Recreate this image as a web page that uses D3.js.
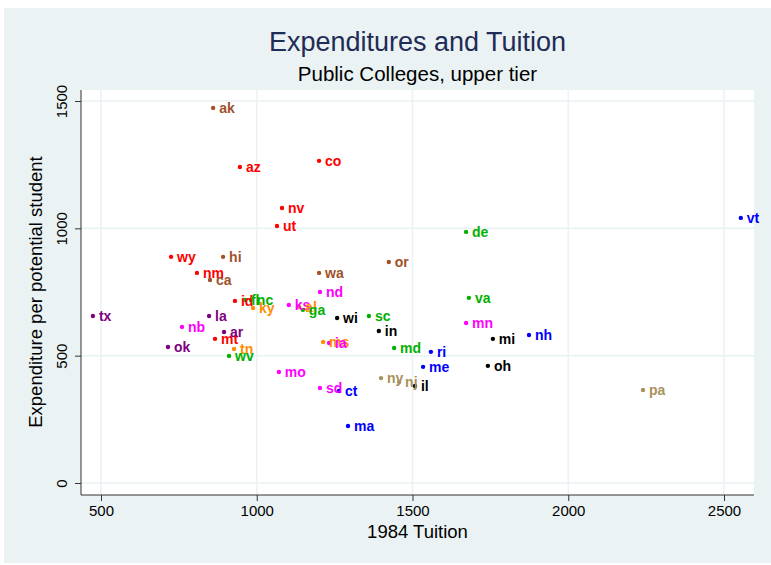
<!DOCTYPE html>
<html>
<head>
<meta charset="utf-8">
<script src="https://cdn.jsdelivr.net/npm/d3@7"></script>
<style>
  body { margin: 0; background: #fff; }
  svg { display: block; font-family: "Liberation Sans", Arial, sans-serif; }
</style>
</head>
<body>
<script>
// State codes, 1984 tuition and expenditure per potential student
const states = ["ak","az","co","nv","ut","wy","hi","nm","ca","wa","or","de","vt","va","mn","mi","nh","oh","pa","ri","me","md","in","sc","wi","ny","nj","il","ct","sd","ma","mo","ms","ia","ks","al","ga","nd","id","fl","nc","ky","tn","wv","mt","ar","la","nb","ok","tx"];
const tuition = [860,946,1200,1081,1065,725,892,808,850,1200,1424,1672,2554,1681,1672,1758,1874,1742,2240,1559,1534,1441,1392,1360,1258,1399,1457,1508,1264,1203,1293,1071,1213,1232,1103,1136,1148,1203,930,962,981,988,927,911,866,895,847,760,715,474];
const expenditure = [1473,1241,1265,1080,1009,888,888,825,797,825,868,986,1041,727,628,566,581,460,365,515,456,530,597,656,648,412,397,381,361,373,224,436,554,550,699,691,680,750,715,719,719,687,526,499,566,593,656,613,534,656];
const group = ["brown","red","red","red","red","red","brown","red","brown","brown","brown","green","blue","green","magenta","black","blue","black","tan","blue","blue","green","black","green","black","tan","tan","black","blue","magenta","blue","magenta","orange","magenta","magenta","orange","green","magenta","red","green","green","orange","orange","green","red","purple","purple","magenta","purple","purple"];
const xTicks = [500, 1000, 1500, 2000, 2500];
const yTicks = [0, 500, 1000, 1500];

const colors = {
  red: "#FF0000",
  brown: "#A0522D",
  green: "#00B000",
  purple: "#800080",
  magenta: "#FF00FF",
  orange: "#FF8C00",
  black: "#000000",
  blue: "#0000FF",
  tan: "#A8915C"
};

const W = 771, H = 565;
const plot = { left: 81, right: 754, top: 90, bottom: 495 };

const svg = d3.select("body").append("svg")
  .attr("width", W)
  .attr("height", H);

// outer graph region
svg.append("rect")
  .attr("x", 4).attr("y", 8)
  .attr("width", W - 4).attr("height", H - 10)
  .style("fill", "#EAF2F3");

// plot region
svg.append("rect")
  .attr("x", plot.left).attr("y", plot.top)
  .attr("width", plot.right - plot.left).attr("height", plot.bottom - plot.top)
  .style("fill", "#FFFFFF");

const x = d3.scaleLinear().domain([500, 2500]).range([101, 724]);
const y = d3.scaleLinear().domain([0, 1500]).range([483, 101]);

// gridlines
svg.append("g")
  .selectAll("line")
  .data(xTicks)
  .join("line")
  .attr("x1", d => x(d)).attr("x2", d => x(d))
  .attr("y1", plot.top).attr("y2", plot.bottom)
  .style("stroke", "#EAF2F3").style("stroke-width", 1.5);

svg.append("g")
  .selectAll("line")
  .data(yTicks)
  .join("line")
  .attr("x1", plot.left).attr("x2", plot.right)
  .attr("y1", d => y(d)).attr("y2", d => y(d))
  .style("stroke", "#EAF2F3").style("stroke-width", 1.5);

// x axis
const xAxis = svg.append("g")
  .attr("transform", `translate(0,${plot.bottom})`)
  .call(d3.axisBottom(x).tickValues(xTicks).tickFormat(d3.format("d"))
    .tickSize(6).tickSizeOuter(0).tickPadding(4));
xAxis.select(".domain").attr("d", `M${plot.left},0H${plot.right}`).style("stroke", "#333");
xAxis.selectAll(".tick line").style("stroke", "#333");
xAxis.selectAll(".tick text")
  .style("font-size", "15px").style("fill", "#000")
  .style("font-family", "Liberation Sans, Arial, sans-serif");

// y axis
const yAxis = svg.append("g")
  .attr("transform", `translate(${plot.left},0)`)
  .call(d3.axisLeft(y).tickValues(yTicks).tickFormat(d3.format("d"))
    .tickSize(6).tickSizeOuter(0).tickPadding(4));
yAxis.select(".domain").attr("d", `M0,${plot.top}V${plot.bottom}`).style("stroke", "#333");
yAxis.selectAll(".tick line").style("stroke", "#333");
yAxis.selectAll(".tick text")
  .attr("x", null).attr("dy", null)
  .attr("transform", "translate(-14,0) rotate(-90)")
  .style("text-anchor", "middle")
  .style("font-size", "15px").style("fill", "#000")
  .style("font-family", "Liberation Sans, Arial, sans-serif");

// axis titles
svg.append("text")
  .attr("x", (plot.left + plot.right) / 2).attr("y", 538)
  .attr("text-anchor", "middle")
  .style("font-size", "18.5px")
  .text("1984 Tuition");

svg.append("text")
  .attr("transform", "translate(42,292) rotate(-90)")
  .attr("text-anchor", "middle")
  .style("font-size", "18.5px")
  .text("Expenditure per potential student");

// titles
svg.append("text")
  .attr("x", (plot.left + plot.right) / 2).attr("y", 51)
  .attr("text-anchor", "middle")
  .style("font-size", "27px").style("fill", "#1E2C56")
  .text("Expenditures and Tuition");

svg.append("text")
  .attr("x", (plot.left + plot.right) / 2).attr("y", 81)
  .attr("text-anchor", "middle")
  .style("font-size", "20.5px")
  .text("Public Colleges, upper tier");

// points and labels
const idx = d3.range(states.length);

svg.append("g")
  .selectAll("circle")
  .data(idx)
  .join("circle")
  .attr("cx", i => x(tuition[i]))
  .attr("cy", i => y(expenditure[i]))
  .attr("r", 2.2)
  .style("fill", i => colors[group[i]]);

svg.append("g")
  .selectAll("text")
  .data(idx)
  .join("text")
  .attr("x", i => x(tuition[i]) + 6)
  .attr("y", i => y(expenditure[i]) + 5)
  .style("font-size", "14px")
  .style("font-weight", "bold")
  .style("fill", i => colors[group[i]])
  .text(i => states[i]);
</script>
</body>
</html>
